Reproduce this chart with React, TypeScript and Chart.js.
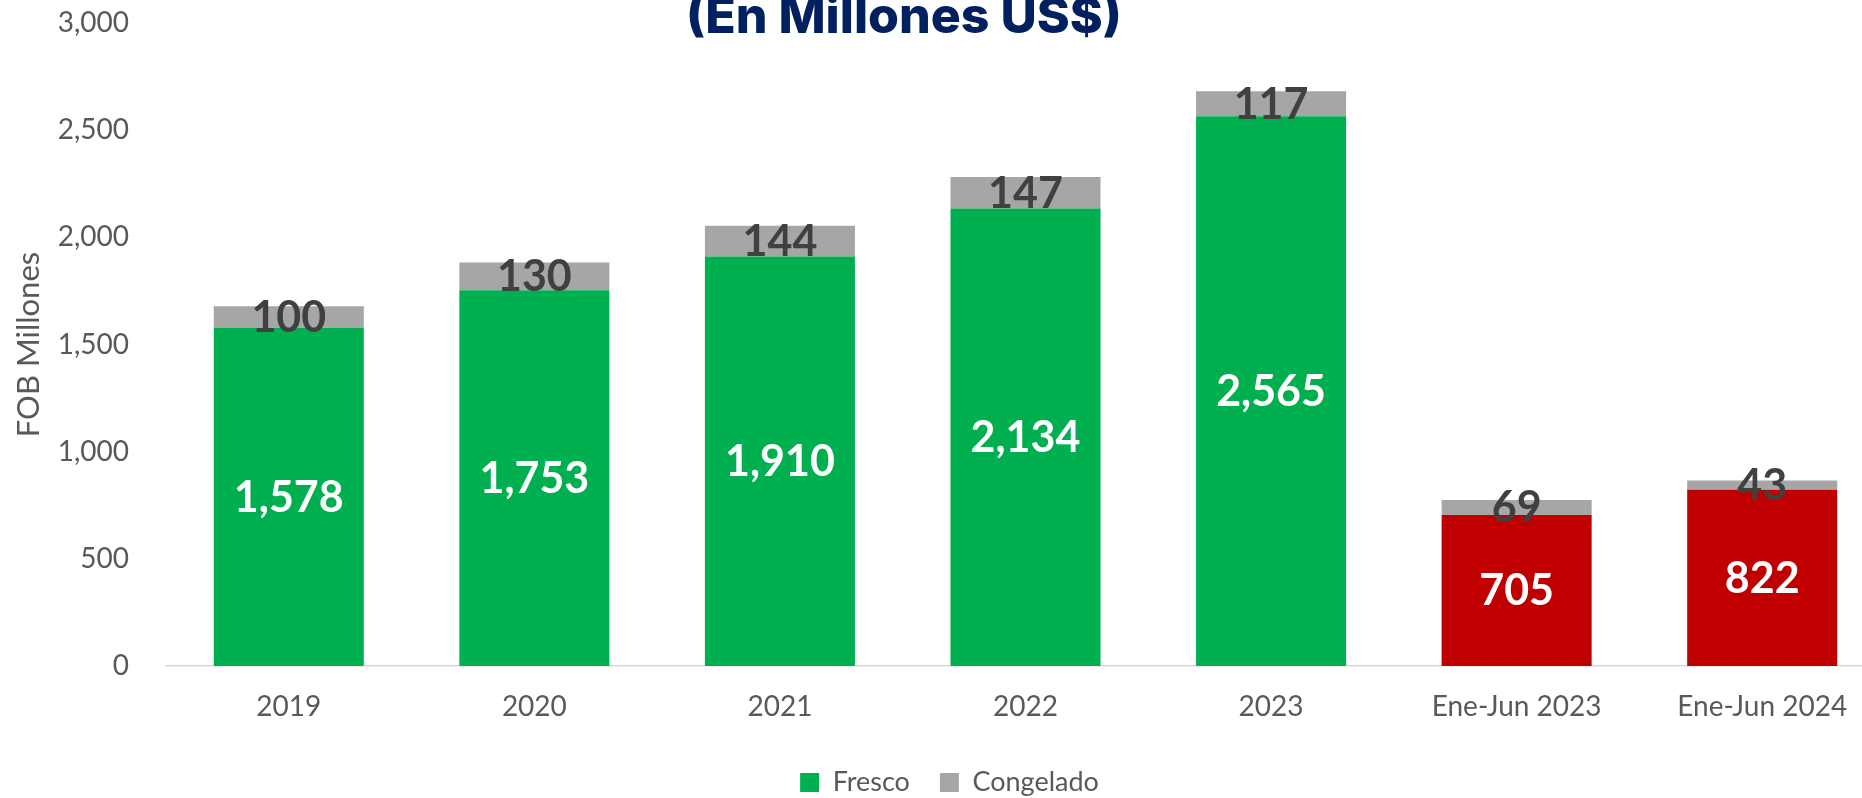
import React, { useEffect, useRef } from "react";
import { Chart, registerables } from "chart.js";

Chart.register(...registerables);

const categories = ["2019", "2020", "2021", "2022", "2023", "Ene-Jun 2023", "Ene-Jun 2024"];
const frescoValues = [1578, 1753, 1910, 2134, 2565, 705, 822];
const congeladoValues = [100, 130, 144, 147, 117, 69, 43];
const frescoColors = ["#00B050", "#00B050", "#00B050", "#00B050", "#00B050", "#C00000", "#C00000"];
const congeladoColor = "#A6A6A6";
const yTicks = [0, 500, 1000, 1500, 2000, 2500, 3000];
const seriesNames = ["Fresco", "Congelado"];
const titleText = "(En Millones US$)";
const yAxisTitle = "FOB Millones";

const valueLabels = {
  id: "valueLabels",
  afterDatasetsDraw(chart: any) {
    const ctx = chart.ctx;
    ctx.save();
    ctx.font = "bold 43px Lato";
    ctx.textAlign = "center";
    ctx.textBaseline = "middle";
    chart.data.datasets.forEach((ds: any, i: number) => {
      const meta = chart.getDatasetMeta(i);
      meta.data.forEach((el: any, j: number) => {
        const { x, y, base } = el.getProps(["x", "y", "base"], true);
        ctx.fillStyle = i === 0 ? "#FFFFFF" : "#404040";
        ctx.fillText(Number(ds.data[j]).toLocaleString("en-US"), x, (y + base) / 2 + 1);
      });
    });
    ctx.restore();
  },
};

const legendShift = {
  id: "legendShift",
  afterLayout(chart: any) {
    if (chart.legend) {
      chart.legend.left += 7;
      chart.legend.right += 7;
    }
  },
};

export default function App() {
  const canvasRef = useRef<HTMLCanvasElement | null>(null);

  useEffect(() => {
    if (!canvasRef.current) return;
    const chart = new Chart(canvasRef.current, {
      type: "bar",
      data: {
        labels: categories,
        datasets: [
          {
            label: seriesNames[0],
            data: frescoValues,
            backgroundColor: frescoColors,
            borderWidth: 0,
          },
          {
            label: seriesNames[1],
            data: congeladoValues,
            backgroundColor: congeladoColor,
            borderWidth: 0,
          },
        ],
      },
      options: {
        animation: false,
        responsive: true,
        maintainAspectRatio: false,
        locale: "en-US",
        layout: { padding: { top: 23, right: 13, left: 0, bottom: 0 } },
        datasets: {
          bar: { categoryPercentage: 0.611, barPercentage: 1 },
        },
        scales: {
          x: {
            stacked: true,
            offset: true,
            grid: { display: false, drawTicks: false },
            border: { display: true, color: "#D9D9D9", width: 1.5 },
            ticks: {
              color: "#595959",
              font: { family: "Lato", size: 28 },
              padding: 24,
              maxRotation: 0,
              autoSkip: false,
            },
            afterFit: (scale: any) => {
              scale.height = 73;
            },
          },
          y: {
            stacked: true,
            min: 0,
            max: 3000,
            grid: { display: false, drawTicks: false },
            border: { display: false },
            afterBuildTicks: (scale: any) => {
              scale.ticks = yTicks.map((v) => ({ value: v }));
            },
            ticks: {
              color: "#595959",
              font: { family: "Lato", size: 28 },
              padding: 37,
            },
            title: {
              display: true,
              text: yAxisTitle,
              color: "#595959",
              font: { family: "Lato", size: 31 },
              padding: { top: 10, bottom: 0 },
            },
            afterFit: (scale: any) => {
              scale.width = 166;
              scale.paddingTop = 0;
              scale.paddingBottom = 0;
            },
          },
        },
        plugins: {
          title: { display: false },
          tooltip: { enabled: false },
          legend: {
            display: true,
            position: "bottom",
            labels: {
              color: "#595959",
              font: { family: "Lato", size: 27 },
              boxWidth: 19,
              boxHeight: 19,
              padding: 30,
              generateLabels: (c: any) => {
                const items = Chart.defaults.plugins.legend.labels.generateLabels(c);
                return items.map((it: any, idx: number) => ({
                  ...it,
                  fillStyle: idx === 0 ? frescoColors[0] : congeladoColor,
                  strokeStyle: idx === 0 ? frescoColors[0] : congeladoColor,
                  lineWidth: 0,
                }));
              },
            },
          },
        },
      },
      plugins: [valueLabels, legendShift],
    });
    const fonts: any = (document as any).fonts;
    if (fonts && fonts.ready) {
      fonts.ready.then(() => {
        try {
          chart.update();
        } catch (e) {}
      });
    }
    return () => {
      chart.destroy();
    };
  }, []);

  return (
    <div
      style={{
        position: "fixed",
        left: 0,
        top: 0,
        width: 1862,
        height: 798,
        overflow: "hidden",
        background: "#FFFFFF",
      }}
    >
      <div style={{ position: "absolute", left: 0, top: 0, width: 1898, height: 806 }}>
        <canvas ref={canvasRef} />
      </div>
      <div
        style={{
          position: "absolute",
          left: 0,
          top: -10,
          width: 1808,
          textAlign: "center",
          fontFamily: "Inter, 'Open Sans', sans-serif",
          fontWeight: 800,
          fontSize: 50,
          lineHeight: "50px",
          color: "#002060",
          whiteSpace: "nowrap",
        }}
      >
        {titleText}
      </div>
    </div>
  );
}
